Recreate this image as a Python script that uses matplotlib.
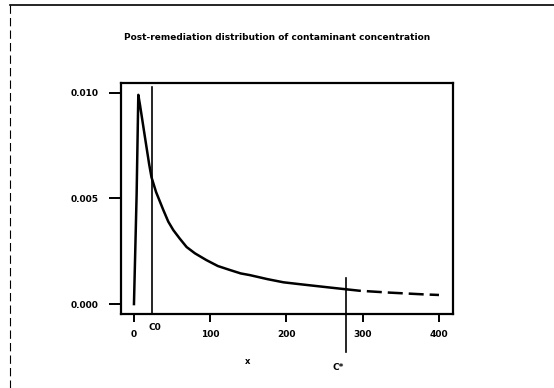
import matplotlib
matplotlib.use("Agg")
import matplotlib.pyplot as plt
from matplotlib.lines import Line2D
import matplotlib.transforms as mtransforms

plt.rcParams['font.family'] = ['DejaVu Sans']
plt.rcParams['lines.scale_dashes'] = False

# Density curve (solid part up to C*, dashed beyond)
x_solid = [0, 3.5, 5.7, 8, 14.4, 20, 23, 29, 38.5, 45, 51.6, 60, 69, 80, 95,
           110, 126, 140, 152, 175, 196, 220, 240, 260, 278]
y_solid = [0.0, 0.0052, 0.0099, 0.0094, 0.0079, 0.0066, 0.0060, 0.0053, 0.00445,
           0.0039, 0.0035, 0.0031, 0.0027, 0.0024, 0.00208, 0.0018, 0.00161,
           0.00145, 0.00137, 0.00118, 0.00103, 0.00093, 0.00085, 0.00077, 0.0007]
x_dash = [278, 296, 336, 379, 400]
y_dash = [0.0007, 0.00063, 0.00054, 0.00046, 0.00043]

c0 = 23
c_star = 278

x_ticks = [0, 100, 200, 300, 400]
y_ticks = [0.0, 0.005, 0.010]
y_ticklabels = ["0.000", "0.005", "0.010"]
title = "Post-remediation distribution of contaminant concentration"

W, H = 554, 388
fig = plt.figure(figsize=(W / 100, H / 100), dpi=100)
ax = fig.add_axes([121 / W, 1 - 314 / H, 332 / W, 231 / H])

ax.plot(x_solid, y_solid, color='black', lw=1.8, solid_joinstyle='round')
ax.plot(x_dash, y_dash, color='black', lw=1.8, dashes=(10.8, 4.3))

# C0 vertical line
ax.axvline(c0, ymin=0, ymax=0.983, color='black', lw=1.2)
# C* vertical line extending below the axes
trans = mtransforms.blended_transform_factory(ax.transData, ax.transAxes)
ax.add_line(Line2D([c_star, c_star], [-0.164, 0.156], transform=trans,
                   color='black', lw=1.2, clip_on=False))

ax.set_xlim(-17, 418.4)
ax.set_ylim(-0.00047, 0.01046)
ax.set_xticks(x_ticks)
ax.set_xticklabels([str(v) for v in x_ticks], fontsize=6.5, fontweight='bold')
ax.set_yticks(y_ticks)
ax.set_yticklabels(y_ticklabels, fontsize=6.5, fontweight='bold')
ax.tick_params(axis='x', length=5.8, width=1.4, pad=5.5)
ax.tick_params(axis='y', length=8.6, width=1.4, pad=7.5)
for s in ax.spines.values():
    s.set_linewidth(1.6)

ax.text(c0 + 5, -0.071, "C0", transform=trans, ha='center', va='baseline',
        fontsize=6.5, fontweight='bold')
ax.text(267.5, -0.242, "C*", transform=trans, ha='center', va='baseline',
        fontsize=6.5, fontweight='bold')
ax.text(149.5, -0.2165, "x", transform=trans, ha='center', va='baseline',
        fontsize=6, fontweight='bold')

fig.text(277 / W, 1 - 38 / H, title, ha='center', va='center',
         fontsize=6.5, fontweight='bold')

# Page border (top solid, left dashed)
fig.add_artist(Line2D([10 / W, 1], [1 - 5 / H, 1 - 5 / H], transform=fig.transFigure,
                      color='black', lw=1.2))
fig.add_artist(Line2D([10 / W, 10 / W], [1 - 5 / H, 0], transform=fig.transFigure,
                      color='black', lw=0.8, dashes=(6, 3)))

fig.savefig("out.png", dpi=100)
